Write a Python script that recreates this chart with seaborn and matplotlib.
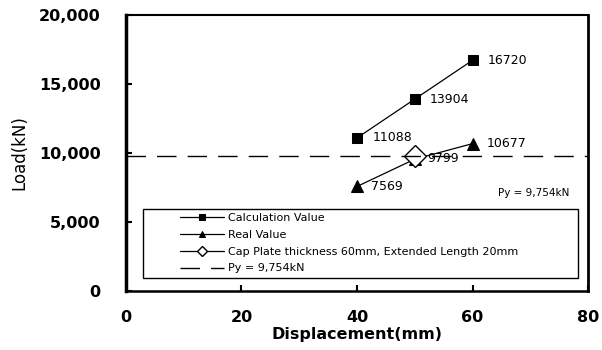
import matplotlib
matplotlib.use("Agg")
import matplotlib.pyplot as plt
import matplotlib.patches as mpatches
import seaborn as sns
import pandas as pd

sns.set_style("ticks")
plt.rcParams['font.family'] = ['DejaVu Sans']
plt.rcParams.update({"text.color": "black", "axes.labelcolor": "black",
                     "xtick.color": "black", "ytick.color": "black"})

displacement = [40, 50, 60]
calc_values = [11088, 13904, 16720]
real_values = [7569, 9550, 10677]
cap_x = [50]
cap_values = [9799]
py_value = 9754
x_ticks = [0, 20, 40, 60, 80]
y_ticks = [0, 5000, 10000, 15000, 20000]
y_tick_labels = ["0", "5,000", "10,000", "15,000", "20,000"]

calc_labels = ["11088", "13904", "16720"]
real_labels = ["7569", "", "10677"]

fig = plt.figure(figsize=(6.02, 3.5), dpi=100)
ax = fig.add_axes([0.209, 0.169, 0.768, 0.788])

df_calc = pd.DataFrame({"x": displacement, "y": calc_values})
df_real = pd.DataFrame({"x": displacement, "y": real_values})
df_cap = pd.DataFrame({"x": cap_x, "y": cap_values})

sns.lineplot(data=df_calc, x="x", y="y", ax=ax, color="black", lw=0.9,
             marker="s", markersize=7, markeredgecolor="black",
             label="Calculation Value")
sns.lineplot(data=df_real, x="x", y="y", ax=ax, color="black", lw=0.9,
             marker="^", markersize=8, markeredgecolor="black",
             label="Real Value")
sns.lineplot(data=df_cap, x="x", y="y", ax=ax, color="black", lw=0.9,
             marker="D", markersize=11, markerfacecolor="white",
             markeredgecolor="black", markeredgewidth=1.0,
             label="Cap Plate thickness 60mm, Extended Length 20mm")
ax.axhline(py_value, color="black", lw=1.0, ls=(0, (14, 8)),
           label="Py = 9,754kN")

lab_fs = 9
for x, y, t in zip(displacement, calc_values, calc_labels):
    ax.annotate(t, (x, y), xytext=(11, 0), textcoords="offset points",
                va="center", ha="left", fontsize=lab_fs)
for x, y, t in zip(displacement, real_values, real_labels):
    if t:
        ax.annotate(t, (x, y), xytext=(10, 0), textcoords="offset points",
                    va="center", ha="left", fontsize=lab_fs)
for x, y in zip(cap_x, cap_values):
    ax.annotate(str(y), (x, y), xytext=(9, -2), textcoords="offset points",
                va="center", ha="left", fontsize=lab_fs)

ax.text(70.5, 7100, "Py = 9,754kN", ha="center", va="center", fontsize=7.5)

ax.set_xlim(0, 80)
ax.set_ylim(0, 20000)
ax.set_xticks(x_ticks)
ax.set_yticks(y_ticks)
ax.set_yticklabels(y_tick_labels)
ax.tick_params(direction="in", length=4, width=1.5, labelsize=11.5)
for lab in ax.get_xticklabels() + ax.get_yticklabels():
    lab.set_fontweight("bold")
ax.tick_params(axis="y", pad=18)
ax.tick_params(axis="x", pad=14)

ax.set_xlabel("Displacement(mm)", fontsize=11.5, fontweight="bold", labelpad=1)
ax.set_ylabel("Load(kN)", fontsize=12, labelpad=8)

for side, w in [("left", 2.5), ("bottom", 1.8), ("right", 2.0), ("top", 1.5)]:
    ax.spines[side].set_visible(True)
    ax.spines[side].set_linewidth(w)
    ax.spines[side].set_color("black")

# legend frame drawn separately, entries placed inside
frame = mpatches.Rectangle((0.037, 0.047), 0.941, 0.25, transform=ax.transAxes,
                           fill=True, facecolor="white", edgecolor="black",
                           lw=1.0, zorder=4)
ax.add_patch(frame)
leg = ax.legend(loc="upper left", bbox_to_anchor=(0.117, 0.283),
                fontsize=8, frameon=False, labelspacing=0.62,
                handlelength=4.0, borderpad=0, borderaxespad=0,
                handletextpad=0.3)
leg.set_zorder(5)
for h in leg.legend_handles:
    try:
        h.set_markersize(5)
    except Exception:
        pass

fig.savefig("out.png", dpi=100)
